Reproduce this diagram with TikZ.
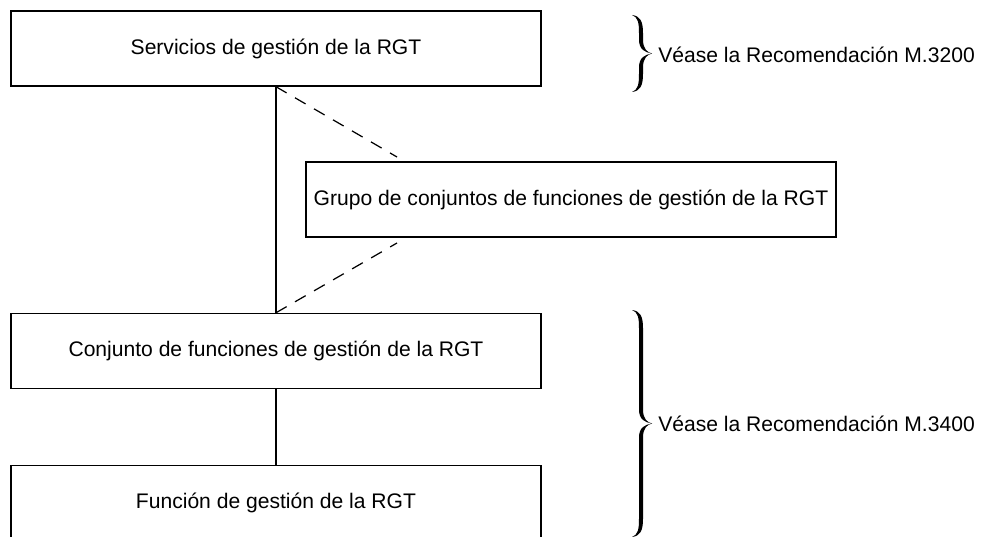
\documentclass[tikz,border=0pt]{standalone}
\usepackage{fontspec}
\setmainfont{Liberation Sans}
\usepackage{tikz}

% filled right brace: x of ends, top y, bottom y
\newcommand{\rgtbrace}[3]{%
  \fill ({#1}, {#2}) .. controls ({#1+8}, {#2+1}) and ({#1+11}, {#2+6}) .. ({#1+11}, {#2+18})
    -- ({#1+11}, {(#2+#3)/2-14}) .. controls ({#1+11}, {(#2+#3)/2-5}) and ({#1+15}, {(#2+#3)/2-1}) .. ({#1+20}, {(#2+#3)/2})
    .. controls ({#1+15}, {(#2+#3)/2+1}) and ({#1+11}, {(#2+#3)/2+5}) .. ({#1+11}, {(#2+#3)/2+14})
    -- ({#1+11}, {#3-18}) .. controls ({#1+11}, {#3-6}) and ({#1+8}, {#3-1}) .. ({#1}, {#3})
    .. controls ({#1+6}, {#3-2}) and ({#1+7}, {#3-8}) .. ({#1+7}, {#3-18})
    -- ({#1+7}, {(#2+#3)/2+14}) .. controls ({#1+7}, {(#2+#3)/2+4}) and ({#1+13}, {(#2+#3)/2+1}) .. ({#1+20}, {(#2+#3)/2})
    .. controls ({#1+13}, {(#2+#3)/2-1}) and ({#1+7}, {(#2+#3)/2-4}) .. ({#1+7}, {(#2+#3)/2-14})
    -- ({#1+7}, {#2+18}) .. controls ({#1+7}, {#2+8}) and ({#1+6}, {#2+2}) .. ({#1}, {#2}) -- cycle;}

\begin{document}
\begin{tikzpicture}[
    x=0.02cm,y=-0.02cm,
    box/.style={draw,line width=0.85pt,minimum width=10.6cm,minimum height=1.5cm,inner sep=0pt,font=\fontsize{12}{14}\selectfont},
    link/.style={line width=1.1pt},
    hint/.style={line width=0.7pt,dash pattern=on 7pt off 5.5pt},
    note/.style={anchor=west,inner sep=0pt,font=\fontsize{12}{14}\selectfont}
    ]
    \useasboundingbox (0, 0) rectangle (985, 537);
    \clip (0, 0) rectangle (985, 537);
    \node[box] (svc) at (276, 48.5) {Servicios de gestión de la RGT};
    \node[box] (grp) at (571, 199.5) {Grupo de conjuntos de funciones de gestión de la RGT};
    \node[box] (cjt) at (276, 351) {Conjunto de funciones de gestión de la RGT};
    \node[box] (fun) at (276, 503) {Función de gestión de la RGT};
    \coordinate (g1) at (397, 157);
    \coordinate (g2) at (397, 243);
    \draw[link] (svc.south) -- (cjt.north);
    \draw[link] (cjt.south) -- (fun.north);
    \draw[hint] (svc.south) -- (g1);
    \draw[hint] (cjt.north) -- (g2);
    % braces
    \rgtbrace{632}{15}{92}
    \rgtbrace{632}{310}{537}
    \node[note] (m32) at (658, 55) {Véase la Recomendación M.3200};
    \node[note] (m34) at (658, 424) {Véase la Recomendación M.3400};
  \end{tikzpicture}
\end{document}
